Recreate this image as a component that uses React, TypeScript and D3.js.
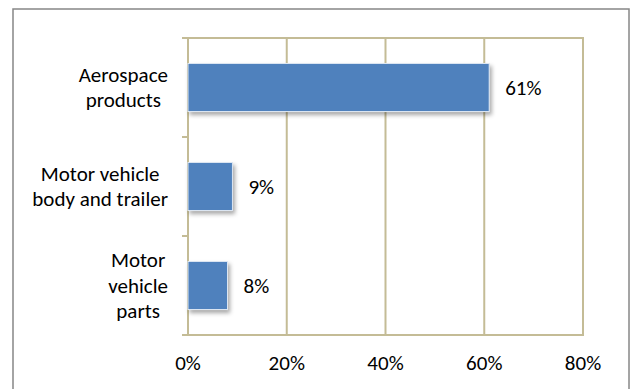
import React from "react";
import * as d3 from "d3";

const categories = ["Aerospace products", "Motor vehicle body and trailer", "Motor vehicle parts"];
const categoryLines = [["Aerospace", "products"], ["Motor vehicle", "body and trailer"], ["Motor", "vehicle", "parts"]];
const values = [0.61, 0.09, 0.08];
const valueLabels = ["61%", "9%", "8%"];
const xTicks = [0, 0.2, 0.4, 0.6, 0.8];

const W = 632;
const H = 389;
const FONT = "Calibri, Carlito, Lato, sans-serif";
const FS = 21;
const GRID = "#C4BC96";

function measure(text: string): number {
  const c = document.createElement("canvas");
  const ctx = c.getContext("2d");
  if (!ctx) return text.length * FS * 0.5;
  ctx.font = `${FS}px ${FONT}`;
  return ctx.measureText(text).width;
}

export default function App() {
  const x = d3.scaleLinear().domain([0, 0.8]).range([188, 583]);
  const y = d3.scaleBand<string>().domain(categories).range([38, 335]).padding(0);
  const barH = y.bandwidth() * 0.485;
  const fmt = d3.format(".0%");
  const lineH = 25.5;
  const labelRight = 168;
  const catTicks = [38, ...categories.map((c) => (y(c) as number) + y.bandwidth())];

  return (
    <svg width={W} height={H} style={{ position: "absolute", left: 0, top: 0, background: "#fff" }}>
      <defs>
        <filter id="sh" x="-10%" y="-20%" width="130%" height="160%">
          <feDropShadow dx="2" dy="3" stdDeviation="2" floodColor="#000" floodOpacity="0.35" />
        </filter>
      </defs>
      <rect x={13} y={9} width={616} height={400} fill="#fff" stroke="#878787" strokeWidth={1.5} />
      {/* vertical gridlines */}
      {xTicks.map((t) => (
        <line key={t} x1={x(t)} x2={x(t)} y1={38} y2={335} stroke={GRID} strokeWidth={2} />
      ))}
      {/* top line and category ticks */}
      {catTicks.map((ty, i) => (
        <line key={i} x1={182} x2={i === 0 ? x(0.8) + 1 : 188} y1={ty} y2={ty} stroke={GRID} strokeWidth={2} />
      ))}
      <line x1={182} x2={x(0.8) + 1} y1={335} y2={335} stroke={GRID} strokeWidth={2} />
      {/* bars */}
      {categories.map((c, i) => {
        const cy = (y(c) as number) + y.bandwidth() / 2;
        return (
          <g key={c}>
            <rect
              x={x(0)}
              y={cy - barH / 2}
              width={x(values[i]) - x(0)}
              height={barH}
              fill="#4F81BD"
              stroke="#DCE6F2"
              strokeWidth={1}
              filter="url(#sh)"
            />
            <text
              x={x(values[i]) + 16}
              y={cy}
              dominantBaseline="central"
              fontFamily={FONT}
              fontSize={FS}
              fill="#000"
            >
              {valueLabels[i]}
            </text>
          </g>
        );
      })}
      {/* category labels */}
      {categories.map((c, i) => {
        const lines = categoryLines[i];
        const cy = (y(c) as number) + y.bandwidth() / 2;
        const maxW = Math.max(...lines.map(measure));
        const cx = labelRight - maxW / 2;
        return (
          <text key={c} fontFamily={FONT} fontSize={FS} fill="#000" textAnchor="middle">
            {lines.map((l, j) => (
              <tspan key={j} x={cx} y={cy + (j - (lines.length - 1) / 2) * lineH} dominantBaseline="central">
                {l}
              </tspan>
            ))}
          </text>
        );
      })}
      {/* x tick labels */}
      {xTicks.map((t) => (
        <text
          key={t}
          x={x(t)}
          y={363}
          textAnchor="middle"
          dominantBaseline="central"
          fontFamily={FONT}
          fontSize={FS}
          fill="#000"
        >
          {fmt(t)}
        </text>
      ))}
    </svg>
  );
}
